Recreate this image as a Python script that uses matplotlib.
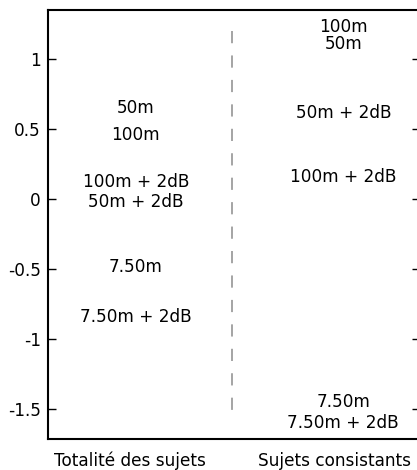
import matplotlib
matplotlib.use("Agg")
import matplotlib.pyplot as plt

plt.rcParams["font.family"] = "DejaVu Sans"
plt.rcParams["axes.unicode_minus"] = False

groups = ["Totalité des sujets", "Sujets consistants"]
conditions = ["50m", "100m", "100m + 2dB", "50m + 2dB", "7.50m", "7.50m + 2dB"]
scores_all = [0.65, 0.457, 0.12, -0.02, -0.486, -0.843]
scores_consistent = [1.11, 1.23, 0.157, 0.614, -1.45, -1.6]
y_ticks = [-1.5, -1, -0.5, 0, 0.5, 1]
y_tick_labels = ["-1.5", "-1", "-0.5", "0", "0.5", "1"]

fs = 12.2

fig = plt.figure(figsize=(4.17, 4.70), dpi=100)
ax = fig.add_axes([48 / 417, 31 / 470, 372 / 417, 429 / 470])

for label, val in zip(conditions, scores_all):
    ax.text(1.03, val, label, ha="center", va="center", fontsize=fs)
for label, val in zip(conditions, scores_consistent):
    ax.text(2.045, val, label, ha="center", va="center", fontsize=fs)

# separator between the two groups
ax.plot([1.5, 1.5], [1.2, -1.56], color="#8c8c8c", lw=1.1,
        linestyle=(0, (8, 8)))

ax.set_xlim(0.6, 2.42)
ax.set_ylim(-1.715, 1.35)
ax.set_xticks([1, 2])
ax.set_xticklabels(groups, fontsize=fs)
ax.set_yticks(y_ticks)
ax.set_yticklabels(y_tick_labels, fontsize=fs)
ax.tick_params(axis="x", length=0, pad=9)
ax.tick_params(axis="y", direction="in", length=5.5, width=1, right=True, pad=5)
for s in ["left", "top", "bottom"]:
    ax.spines[s].set_linewidth(1.5)
ax.spines["right"].set_visible(False)

fig.savefig("out.png", dpi=100)
